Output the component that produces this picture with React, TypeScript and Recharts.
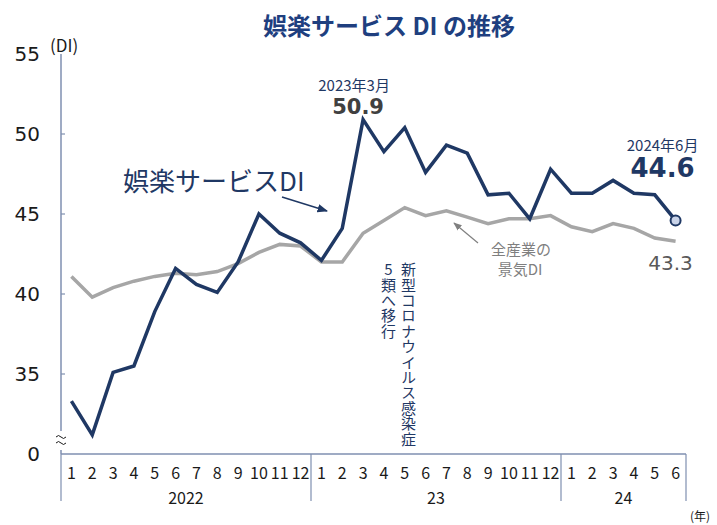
import React from "react";
import { ComposedChart, Line, XAxis, YAxis } from "recharts";

// month ticks (2022-1 .. 2024-6)
const MONTHS = [
  "1", "2", "3", "4", "5", "6", "7", "8", "9", "10", "11", "12",
  "1", "2", "3", "4", "5", "6", "7", "8", "9", "10", "11", "12",
  "1", "2", "3", "4", "5", "6",
];
const YEARS = ["2022", "23", "24"];

// 娯楽サービスDI
const ENTERTAINMENT_DI = [
  33.3, 31.2, 35.1, 35.5, 38.9, 41.6, 40.6, 40.1, 42.0, 45.0, 43.8, 43.2,
  42.1, 44.1, 50.9, 48.9, 50.4, 47.6, 49.3, 48.8, 46.2, 46.3, 44.7, 47.8,
  46.3, 46.3, 47.1, 46.3, 46.2, 44.6,
];
// 全産業の景気DI
const ALL_INDUSTRY_DI = [
  41.1, 39.8, 40.4, 40.8, 41.1, 41.3, 41.2, 41.4, 41.9, 42.6, 43.1, 43.0,
  42.0, 42.0, 43.8, 44.6, 45.4, 44.9, 45.2, 44.8, 44.4, 44.7, 44.7, 44.9,
  44.2, 43.9, 44.4, 44.1, 43.5, 43.3,
];

const Y_TICKS = [30, 35, 40, 45, 50, 55];
const Y_TICK_LABELS = ["0", "35", "40", "45", "50", "55"];

const PEAK_CAPTION = "2023年3月";
const LAST_CAPTION = "2024年6月";

const NAVY = "#1f3864";
const GRAY = "#a6a6a6";
const AXIS = "#7f8fb0";
const JP = "'Noto Sans CJK JP', 'Noto Sans', sans-serif";
const NUM = "'DejaVu Sans', 'Noto Sans', sans-serif";

const W = 717;
const H = 525;
const MARGIN = { top: 54, right: 31, left: 0, bottom: 21 };
const Y_AXIS_W = 61;
const STEP = (W - MARGIN.right - MARGIN.left - Y_AXIS_W) / MONTHS.length;
const HALF = STEP / 2;

const data = MONTHS.map((m, i) => ({
  key: String(i),
  month: m,
  ent: ENTERTAINMENT_DI[i],
  all: ALL_INDUSTRY_DI[i],
}));

// year groups start where month is "1"
const groupStarts: number[] = [];
MONTHS.forEach((m, i) => {
  if (m === "1") groupStarts.push(i);
});
const groupLens = groupStarts.map((s, g) =>
  (g + 1 < groupStarts.length ? groupStarts[g + 1] : MONTHS.length) - s
);

const peakIndex = ENTERTAINMENT_DI.indexOf(Math.max(...ENTERTAINMENT_DI));
const lastIndex = MONTHS.length - 1;

function MonthTick(props: any) {
  const { x, y, payload } = props;
  const i = payload.index;
  const g = groupStarts.indexOf(i);
  return (
    <g>
      <text x={x} y={y + 25} textAnchor="middle" fontSize={16} fill="#1a1a1a" fontFamily={JP}>
        {MONTHS[i]}
      </text>
      {g >= 0 && (
        <>
          <line x1={x - HALF} x2={x - HALF} y1={y} y2={y + 47} stroke={AXIS} strokeWidth={1.2} />
          <text
            x={x - HALF + (groupLens[g] * STEP) / 2}
            y={y + 50}
            textAnchor="middle"
            fontSize={16}
            fill="#1a1a1a"
            fontFamily={JP}
          >
            {YEARS[g]}
          </text>
        </>
      )}
      {i === lastIndex && (
        <line x1={x + HALF} x2={x + HALF} y1={y} y2={y + 47} stroke={AXIS} strokeWidth={1.2} />
      )}
    </g>
  );
}

function ValueTick(props: any) {
  const { x, y, payload } = props;
  const v = payload.value;
  const label = Y_TICK_LABELS[Y_TICKS.indexOf(v)];
  return (
    <g>
      <text x={x} y={y + 7} textAnchor="end" fontSize={20} fill="#1a1a1a" fontFamily={NUM}>
        {label}
      </text>
      {v !== 30 && v !== 55 && (
        <line x1={x + 21} x2={x + 25} y1={y} y2={y} stroke={AXIS} strokeWidth={1.2} />
      )}
    </g>
  );
}

const navyLabel = (p: any) => {
  const { x, y, index, value } = p;
  if (index === peakIndex) {
    return (
      <g>
        <text x={x - 9} y={y - 29} textAnchor="middle" fontSize={15} fill={NAVY} fontFamily={JP}>
          {PEAK_CAPTION}
        </text>
        <text x={x - 5} y={y - 6} textAnchor="middle" fontSize={21} fontWeight="bold" fill="#404040" fontFamily={NUM}>
          {Number(value).toFixed(1)}
        </text>
      </g>
    );
  }
  if (index === lastIndex) {
    return (
      <g>
        <text x={x - 13} y={y - 69} textAnchor="middle" fontSize={15} fill={NAVY} fontFamily={JP}>
          {LAST_CAPTION}
        </text>
        <text x={x - 13} y={y - 43} textAnchor="middle" fontSize={26} fontWeight="bold" fill={NAVY} fontFamily={NUM}>
          {Number(value).toFixed(1)}
        </text>
      </g>
    );
  }
  return <g />;
};

const grayLabel = (p: any) => {
  const { x, y, index, value } = p;
  if (index !== lastIndex) return <g />;
  return (
    <text x={x - 5} y={y + 29} textAnchor="middle" fontSize={20} fill="#595959" fontFamily={NUM}>
      {Number(value).toFixed(1)}
    </text>
  );
};

const navyDot = (p: any) => {
  const { cx, cy, index } = p;
  if (index !== lastIndex) return <g key={`d${index}`} />;
  return <circle key={`d${index}`} cx={cx} cy={cy} r={5} fill="#c9d3e8" stroke={NAVY} strokeWidth={2} />;
};

// small wave used for the axis break mark
const wave = (y: number) => `M56,${y} q2.5,-3 5,0 t5,0`;

export default function App() {
  return (
    <div style={{ position: "absolute", left: 0, top: 0, width: W, height: H, background: "#fff" }}>
      <ComposedChart width={W} height={H} data={data} margin={MARGIN}>
        <XAxis
          dataKey="key"
          interval={0}
          padding={{ left: HALF, right: HALF }}
          tick={<MonthTick />}
          tickLine={false}
          tickSize={0}
          tickMargin={0}
          height={50}
          axisLine={{ stroke: AXIS, strokeWidth: 1.5 }}
        />
        <YAxis
          domain={[30, 55]}
          ticks={Y_TICKS}
          interval={0}
          width={Y_AXIS_W}
          tick={<ValueTick />}
          tickLine={false}
          tickSize={0}
          tickMargin={21}
          axisLine={{ stroke: AXIS, strokeWidth: 1.5 }}
        />
        <Line
          dataKey="all"
          stroke={GRAY}
          strokeWidth={3.5}
          dot={false}
          label={grayLabel}
          isAnimationActive={false}
        />
        <Line
          dataKey="ent"
          stroke={NAVY}
          strokeWidth={3.5}
          dot={navyDot}
          label={navyLabel}
          isAnimationActive={false}
        />
      </ComposedChart>

      <svg width={W} height={H} style={{ position: "absolute", left: 0, top: 0, pointerEvents: "none" }}>
        <defs>
          <marker id="arrNavy" viewBox="0 0 10 10" refX="9" refY="5" markerWidth="7" markerHeight="7" orient="auto">
            <path d="M0,1 L10,5 L0,9 z" fill={NAVY} />
          </marker>
          <marker id="arrGray" viewBox="0 0 10 10" refX="9" refY="5" markerWidth="7" markerHeight="7" orient="auto">
            <path d="M0,1 L10,5 L0,9 z" fill="#808080" />
          </marker>
        </defs>
        <text x={389} y={35} textAnchor="middle" fontSize={24} fontWeight="bold" fill="#1f3f7f" fontFamily={JP}>
          娯楽サービス DI の推移
        </text>
        <text x={50} y={52} fontSize={17} fill="#1a1a1a" fontFamily={JP}>(DI)</text>
        <text x={690} y={521} fontSize={12} fill="#1a1a1a" fontFamily={JP}>(年)</text>

        <text x={123} y={191} fontSize={26} fill={NAVY} fontFamily={JP}>娯楽サービスDI</text>
        <line x1={282} y1={197} x2={327} y2={211} stroke={NAVY} strokeWidth={1.5} markerEnd="url(#arrNavy)" />

        <text x={521} y={255} textAnchor="middle" fontSize={15} fill="#7f7f7f" fontFamily={JP}>全産業の</text>
        <text x={520} y={275} textAnchor="middle" fontSize={15} fill="#7f7f7f" fontFamily={JP}>景気DI</text>
        <line x1={478} y1={243} x2={454} y2={223} stroke="#808080" strokeWidth={1.2} markerEnd="url(#arrGray)" />

        <rect x={55} y={431} width={12} height={19} fill="#fff" />
        <path d={wave(437)} fill="none" stroke="#1a1a1a" strokeWidth={1} />
        <path d={wave(443)} fill="none" stroke="#1a1a1a" strokeWidth={1} />
      </svg>

      <div
        style={{
          position: "absolute", left: 400, top: 262, writingMode: "vertical-rl", textOrientation: "upright",
          fontFamily: JP, fontSize: 15, lineHeight: "17px", color: NAVY, letterSpacing: 0.4,
        }}
      >
        新型コロナウイルス感染症
      </div>
      <div
        style={{
          position: "absolute", left: 380, top: 262, writingMode: "vertical-rl", textOrientation: "upright",
          fontFamily: JP, fontSize: 15, lineHeight: "17px", color: NAVY, letterSpacing: 0.4,
        }}
      >
        5類へ移行
      </div>
    </div>
  );
}
